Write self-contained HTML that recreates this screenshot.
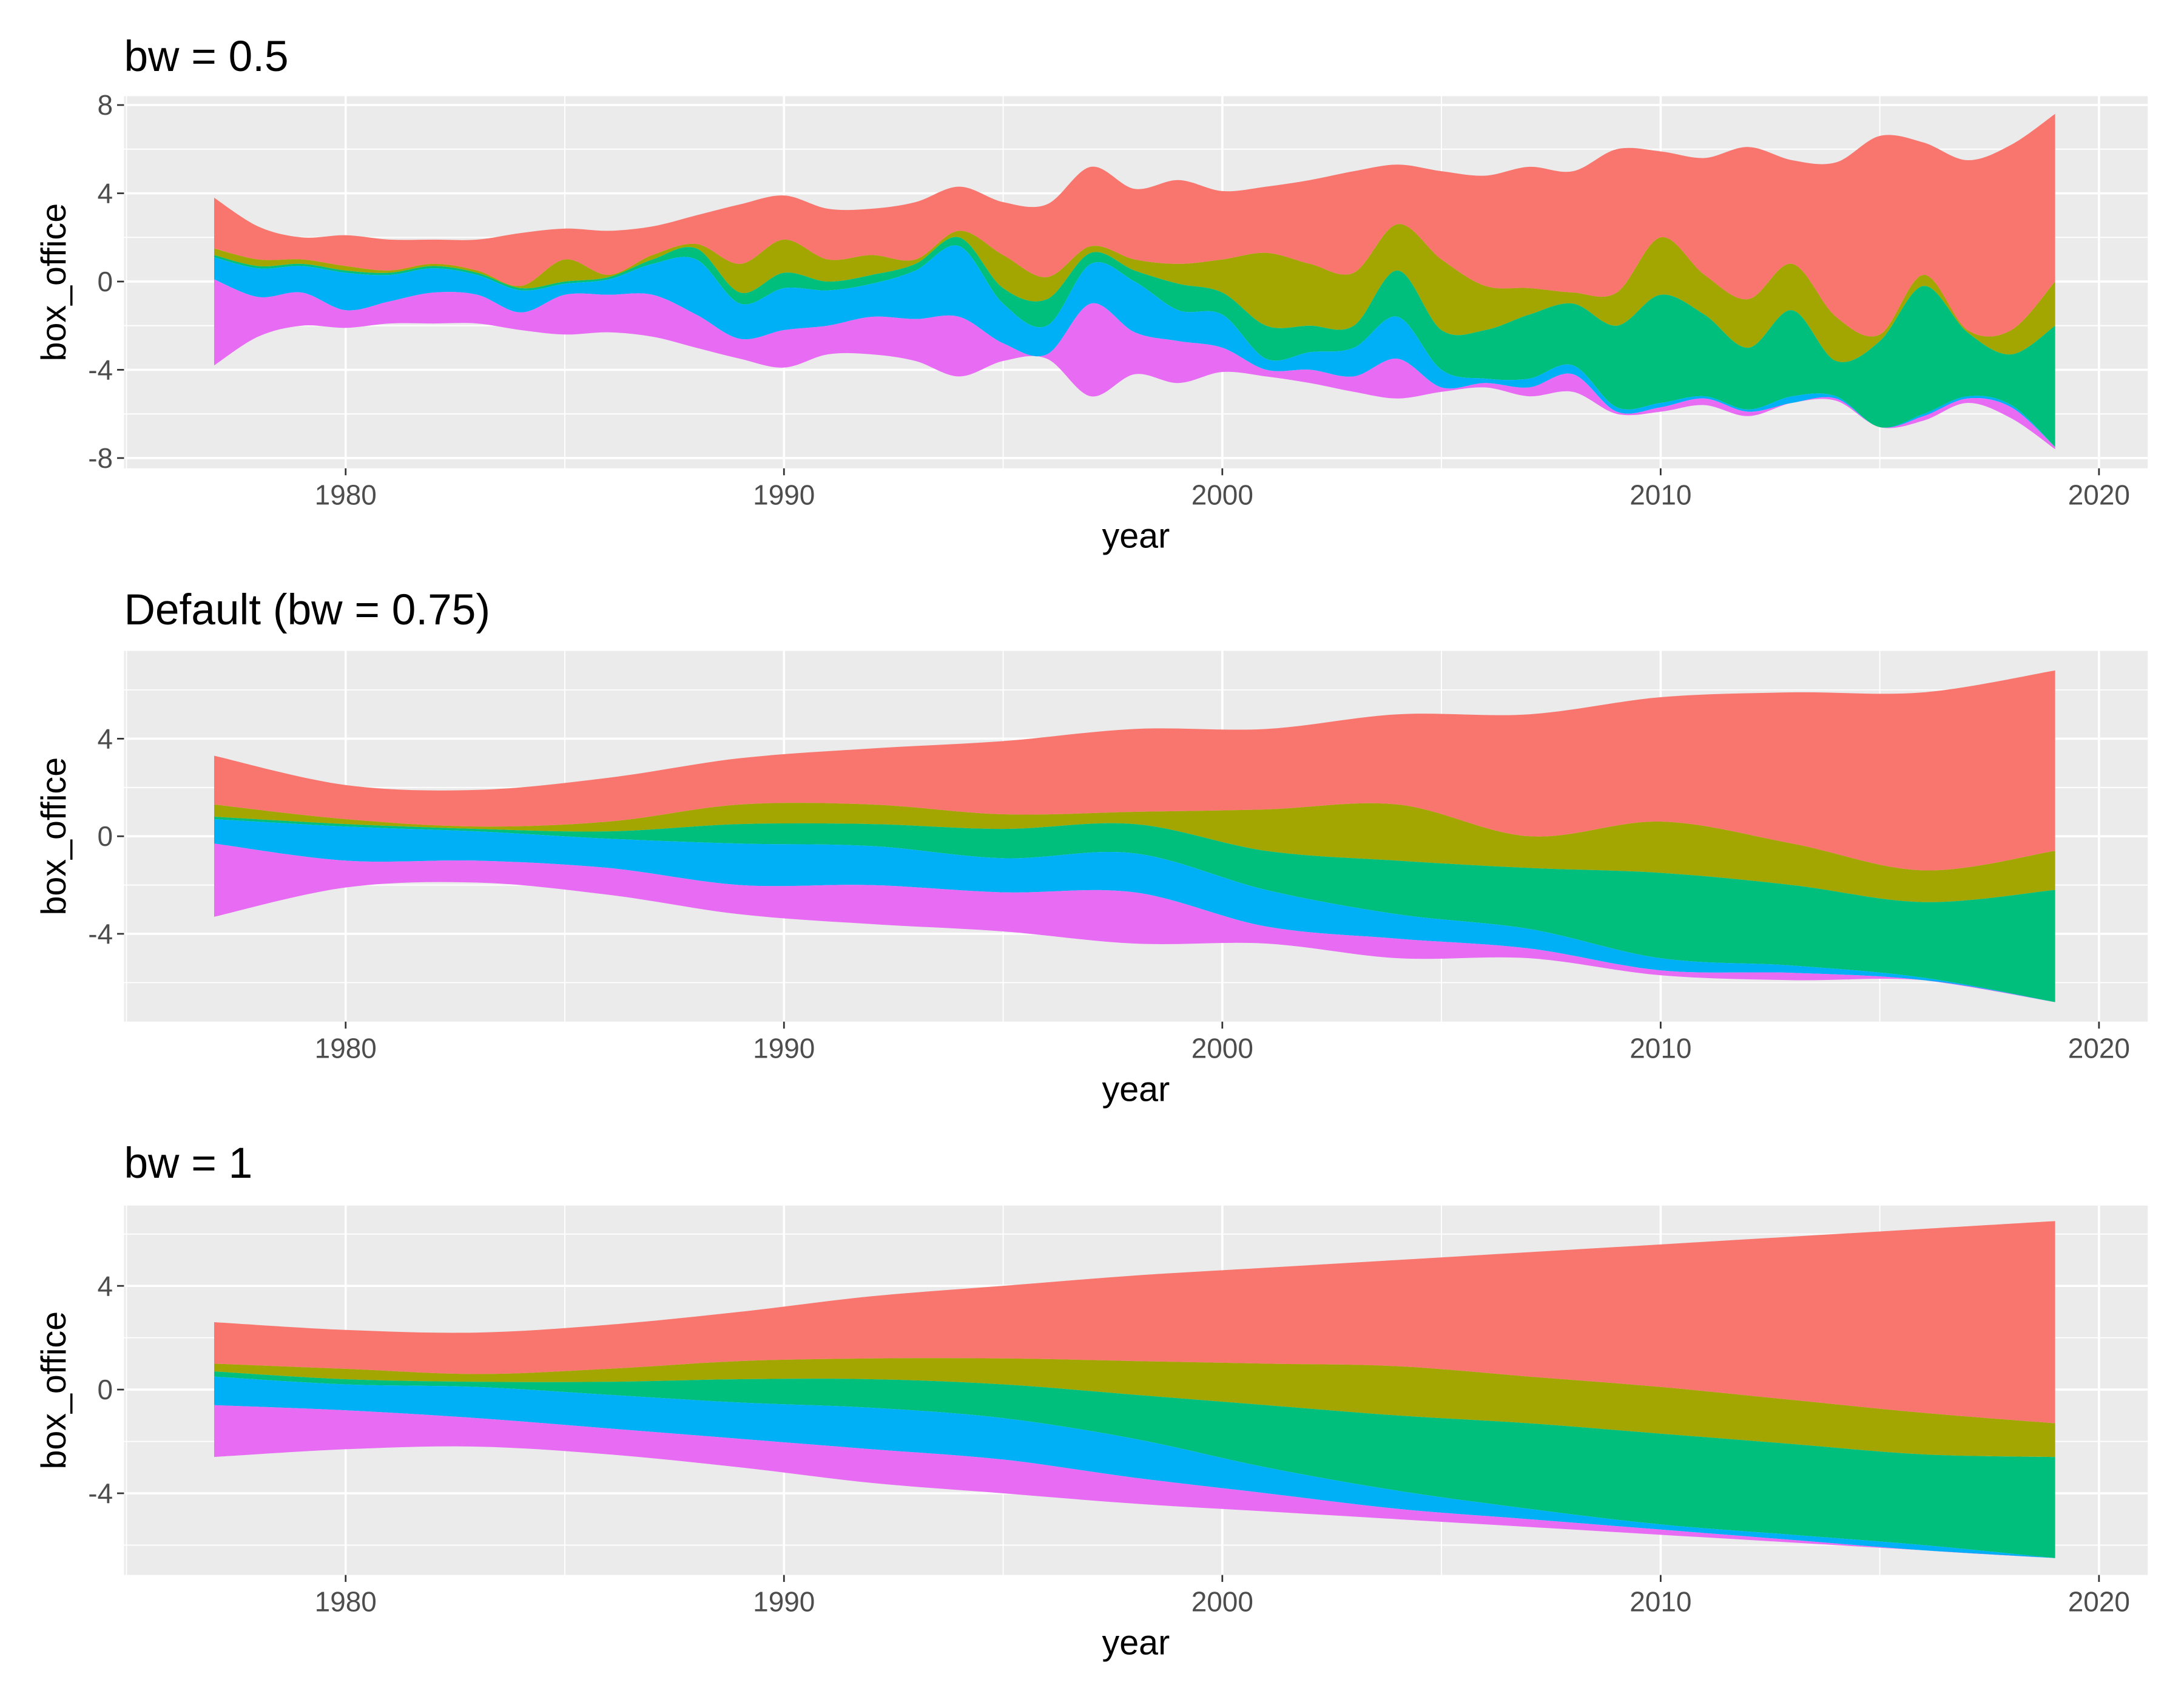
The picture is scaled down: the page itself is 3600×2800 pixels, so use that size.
<!DOCTYPE html>
<html><head><meta charset="utf-8">
<style>
html,body{margin:0;padding:0;background:#fff;}
svg{display:block;}
text{font-family:"Liberation Sans",Arial,sans-serif;}
</style></head>
<body>
<svg id="chart" xmlns="http://www.w3.org/2000/svg" width="3600" height="2800" viewBox="0 0 1567 1219" preserveAspectRatio="none">
<rect width="1567" height="1219" fill="#fff"/>
</svg>
<script>
// ---------- data ----------
const years1 = [1977,1978,1979,1980,1981,1982,1983,1984,1985,1986,1987,1988,1989,1990,1991,1992,1993,1994,1995,1996,1997,1998,1999,2000,2001,2002,2003,2004,2005,2006,2007,2008,2009,2010,2011,2012,2013,2014,2015,2016,2017,2018,2019];
// layer edges (top of red, red/olive, olive/green, green/blue, blue/pink, bottom of pink)
const p1Top   = [3.8,2.5,2.0,2.1,1.9,1.9,1.9,2.2,2.4,2.3,2.5,3.0,3.5,3.9,3.3,3.3,3.6,4.3,3.6,3.5,5.2,4.2,4.6,4.1,4.3,4.6,5.0,5.3,5.0,4.8,5.2,5.0,6.0,5.9,5.6,6.1,5.5,5.4,6.6,6.3,5.5,6.2,7.6];
const p1Red   = [1.5,1.0,1.0,0.7,0.5,0.8,0.5,-0.2,1.0,0.3,1.2,1.7,0.8,1.9,1.0,1.2,1.0,2.3,1.2,0.2,1.6,1.0,0.8,1.0,1.3,0.8,0.4,2.6,1.0,-0.2,-0.3,-0.5,-0.5,2.0,0.3,-0.8,0.8,-1.6,-2.4,0.3,-2.2,-2.2,0.0];
const p1Olive = [1.2,0.7,0.8,0.5,0.4,0.7,0.4,-0.3,0.0,0.2,1.0,1.5,-0.5,0.4,0.0,0.3,0.8,2.0,-0.3,-0.8,1.3,0.5,-0.1,-0.5,-2.0,-2.0,-2.0,0.5,-2.2,-2.2,-1.5,-1.0,-2.0,-0.6,-1.5,-3.0,-1.3,-3.6,-2.7,-0.2,-2.3,-3.3,-2.0];
const p1Green = [1.1,0.6,0.7,0.4,0.3,0.6,0.3,-0.4,-0.1,0.1,0.8,1.0,-1.0,-0.3,-0.4,-0.1,0.5,1.6,-1.0,-2.0,0.8,0.0,-1.3,-1.5,-3.5,-3.2,-3.0,-1.6,-4.0,-4.4,-4.4,-3.8,-5.7,-5.5,-5.2,-5.8,-5.2,-5.2,-6.6,-6.0,-5.2,-5.6,-7.5];
const p1Blue  = [0.1,-0.7,-0.5,-1.3,-0.9,-0.5,-0.6,-1.4,-0.6,-0.6,-0.6,-1.5,-2.6,-2.2,-2.0,-1.6,-1.7,-1.6,-2.8,-3.3,-1.0,-2.3,-2.7,-3.0,-4.0,-4.0,-4.3,-3.5,-4.8,-4.6,-4.8,-4.2,-5.9,-5.7,-5.3,-5.9,-5.5,-5.3,-6.6,-6.1,-5.3,-5.7,-7.5];
const p1Bot   = p1Top.map(v => -v);

const years23 = [1977,1980,1983,1986,1989,1992,1995,1998,2001,2004,2007,2010,2013,2016,2019];
const p2Top   = [3.3,2.1,1.9,2.4,3.2,3.6,3.9,4.4,4.4,5.0,5.0,5.7,5.9,5.9,6.8];
const p2Red   = [1.3,0.7,0.4,0.6,1.3,1.3,0.9,1.0,1.1,1.3,0.0,0.6,-0.3,-1.4,-0.6];
const p2Olive = [0.8,0.5,0.3,0.2,0.5,0.5,0.3,0.5,-0.6,-1.0,-1.3,-1.5,-2.0,-2.7,-2.2];
const p2Green = [0.7,0.4,0.2,-0.1,-0.3,-0.4,-0.9,-0.7,-2.2,-3.2,-3.8,-5.0,-5.3,-5.8,-6.8];
const p2Blue  = [-0.3,-1.0,-1.0,-1.3,-2.0,-2.0,-2.3,-2.3,-3.7,-4.2,-4.6,-5.5,-5.6,-5.9,-6.8];
const p2Bot   = p2Top.map(v => -v);

const p3Top   = [2.6,2.3,2.2,2.5,3.0,3.6,4.0,4.4,4.7,5.0,5.3,5.6,5.9,6.2,6.5];
const p3Red   = [1.0,0.8,0.6,0.8,1.1,1.2,1.2,1.1,1.0,0.9,0.5,0.1,-0.4,-0.9,-1.3];
const p3Olive = [0.7,0.4,0.3,0.3,0.4,0.4,0.2,-0.2,-0.6,-1.0,-1.3,-1.7,-2.1,-2.5,-2.6];
const p3Green = [0.5,0.2,0.1,-0.2,-0.5,-0.7,-1.1,-1.9,-3.0,-3.9,-4.6,-5.2,-5.6,-6.0,-6.5];
const p3Blue  = [-0.6,-0.8,-1.1,-1.5,-1.9,-2.3,-2.7,-3.4,-4.0,-4.6,-5.0,-5.4,-5.8,-6.2,-6.5];
const p3Bot   = p3Top.map(v => -v);

const xTicks = [1980,1990,2000,2010,2020];
const xMinor = [1975,1985,1995,2005,2015];
const seriesNames = ["red","olive","green","blue","pink"];
const seriesColors = ["#F8766D","#A3A500","#00BF7D","#00B0F6","#E76BF3"];

// ---------- drawing ----------
const NS = "http://www.w3.org/2000/svg";
const svg = document.getElementById("chart");
function mk(tag, attrs, parent){
  const e = document.createElementNS(NS, tag);
  for (const k in attrs) e.setAttribute(k, attrs[k]);
  (parent||svg).appendChild(e);
  return e;
}
const X0 = 89, X1 = 1541;
function xScale(yr){ return 248 + (yr - 1980) * 31.45; }

function smoothPts(pts){
  let d = "";
  for (let i=0;i<pts.length-1;i++){
    const p0 = pts[Math.max(0,i-1)], p1 = pts[i], p2 = pts[i+1], p3 = pts[Math.min(pts.length-1,i+2)];
    const c1x = p1[0] + (p2[0]-p0[0])/6, c1y = p1[1] + (p2[1]-p0[1])/6;
    const c2x = p2[0] - (p3[0]-p1[0])/6, c2y = p2[1] - (p3[1]-p1[1])/6;
    d += " C" + c1x.toFixed(2)+","+c1y.toFixed(2)+" "+c2x.toFixed(2)+","+c2y.toFixed(2)+" "+p2[0].toFixed(2)+","+p2[1].toFixed(2);
  }
  return d;
}

function panel(idx, cfg){
  const g = mk("g", {});
  
  
  const yScale = v => cfg.zeroY - v * cfg.pxPerUnit;
  const t = mk("text", {x:89, y:cfg.titleY, "font-size":31, fill:"#000"}, g);
  t.textContent = cfg.title;
  
  
  const bg = mk("rect", {x:X0, y:cfg.top, width:X1-X0, height:cfg.bottom-cfg.top, fill:"#EBEBEB"}, g);
  
  
  cfg.yMinor.forEach(v => { const y=yScale(v); mk("line",{x1:X0,x2:X1,y1:y,y2:y,stroke:"#fff","stroke-width":0.8},g); });
  xMinor.forEach(v => { const x=xScale(v); mk("line",{x1:x,x2:x,y1:cfg.top,y2:cfg.bottom,stroke:"#fff","stroke-width":0.8},g); });
  cfg.yTicks.forEach(v => { const y=yScale(v); mk("line",{x1:X0,x2:X1,y1:y,y2:y,stroke:"#fff","stroke-width":1.6},g); });
  xTicks.forEach(v => { const x=xScale(v); mk("line",{x1:x,x2:x,y1:cfg.top,y2:cfg.bottom,stroke:"#fff","stroke-width":1.6},g); });
  const edges = cfg.edges;
  for (let s=0; s<5; s++){
    const upper = edges[s].map((v,i)=>[xScale(cfg.years[i]), yScale(v)]);
    const lower = edges[s+1].map((v,i)=>[xScale(cfg.years[i]), yScale(v)]).reverse();
    let d = "M" + upper[0][0] + "," + upper[0][1] + smoothPts(upper);
    d += " L" + lower[0][0] + "," + lower[0][1] + smoothPts(lower) + " Z";
    const p = mk("path", {d:d, fill:seriesColors[s]}, g);
    
    
  }
  cfg.yTicks.forEach(v => {
    const y = yScale(v);
    mk("line",{x1:84,x2:89,y1:y,y2:y,stroke:"#333","stroke-width":1.2},g);
    const l = mk("text",{x:81,y:y+7,"font-size":20,fill:"#4D4D4D","text-anchor":"end"},g);
    l.textContent = String(v);
    
    
  });
  xTicks.forEach(v => {
    const x = xScale(v);
    mk("line",{x1:x,x2:x,y1:cfg.bottom,y2:cfg.bottom+5,stroke:"#333","stroke-width":1.2},g);
    const l = mk("text",{x:x,y:cfg.bottom+26,"font-size":20,fill:"#4D4D4D","text-anchor":"middle"},g);
    l.textContent = String(v);
    
    
  });
  const xt = mk("text",{x:815,y:cfg.bottom+57,"font-size":25,fill:"#000","text-anchor":"middle"},g);
  xt.textContent = "year";
  
  
  const cy = (cfg.top+cfg.bottom)/2;
  const yt = mk("text",{x:0,y:0,"font-size":25,fill:"#000","text-anchor":"middle",transform:"translate(47,"+cy+") rotate(-90)"},g);
  yt.textContent = "box_office";
  
  
}

panel(1, {title:"bw = 0.5", titleY:51, top:69, bottom:336, zeroY:202, pxPerUnit:15.83,
  yTicks:[8,4,0,-4,-8], yMinor:[6,2,-2,-6], years:years1,
  edges:[p1Top,p1Red,p1Olive,p1Green,p1Blue,p1Bot]});
panel(2, {title:"Default (bw = 0.75)", titleY:448, top:467, bottom:733, zeroY:600, pxPerUnit:17.5,
  yTicks:[4,0,-4], yMinor:[6,2,-2,-6], years:years23,
  edges:[p2Top,p2Red,p2Olive,p2Green,p2Blue,p2Bot]});
panel(3, {title:"bw = 1", titleY:845, top:865, bottom:1130, zeroY:997, pxPerUnit:18.6,
  yTicks:[4,0,-4], yMinor:[6,2,-2,-6], years:years23,
  edges:[p3Top,p3Red,p3Olive,p3Green,p3Blue,p3Bot]});
</script>
</body></html>
